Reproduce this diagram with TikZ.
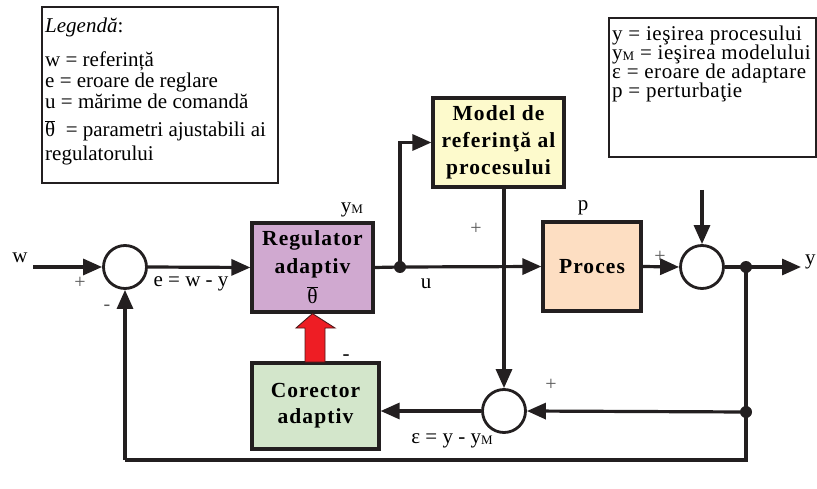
\documentclass[tikz,border=0pt]{standalone}
\usepackage{fontspec}
\setmainfont{Liberation Serif}
\newfontfamily\boxfont[LetterSpace=5]{Liberation Serif}
\newfontfamily\widefont[LetterSpace=2.5]{Liberation Serif}
\usetikzlibrary{arrows.meta,calc}
\definecolor{lc}{HTML}{231F20}
\definecolor{regfill}{HTML}{D0A9D0}
\definecolor{modfill}{HTML}{FDFACC}
\definecolor{procfill}{HTML}{FDDEC2}
\definecolor{corfill}{HTML}{D3E6CB}
\definecolor{redarr}{HTML}{EE1D24}
\newcommand{\txt}{\fontsize{21}{21}\selectfont}
\newcommand{\ysubM}{y{\fontsize{13}{13}\selectfont\raisebox{-1pt}{M}}}
\newcommand{\thbar}{\ensuremath{\overline{\mbox{θ}}}}
\tikzset{
  blk/.style={draw=lc, line width=3.2pt, inner sep=0pt, align=center,
    font=\boxfont\bfseries\fontsize{21.5}{28}\selectfont},
  sumc/.style={circle, draw=lc, line width=2.8pt, minimum size=43pt, inner sep=0pt, fill=white},
  conn/.style={draw=lc, line width=3.2pt, -{Triangle[length=19pt,width=16pt]}},
  wire/.style={draw=lc, line width=3.2pt},
  jdot/.style={circle, fill=lc, inner sep=0pt, minimum size=12pt},
  lbl/.style={font=\txt, inner sep=0pt},
  rlbl/.style={font=\widefont\txt, inner sep=0pt, anchor=base west},
  sgn/.style={font=\fontsize{20}{20}\selectfont, text=gray!70!black, inner sep=0pt},
  legbox/.style={draw=lc, line width=1.4pt},
}
\begin{document}
\begin{tikzpicture}[x=1pt,y=-1pt]
\useasboundingbox (0,0) rectangle (817,489);

% legend boxes
\draw[legbox] (42,7) rectangle (278,183);
\node[lbl, anchor=base west] (lg0) at (45,33) {\textit{Legendă}:};
\node[lbl, anchor=base west] (lg1) at (45,67) {w = referință};
\node[lbl, anchor=base west] (lg2) at (45,88) {e = eroare de reglare};
\node[lbl, anchor=base west] (lg3) at (45,109) {u = mărime de comandă};
\node[lbl, anchor=base west] (lg4) at (45,137) {\thbar\ \ = parametri ajustabili ai};
\node[lbl, anchor=base west] (lg5) at (45,161) {regulatorului};

\draw[legbox] (609,18) rectangle (816,157);
\node[rlbl] (rg1) at (612,41) {y = ieşirea procesului};
\node[rlbl] (rg2) at (612,60) {\ysubM{} = ieşirea modelului};
\node[rlbl] (rg3) at (612,79) {ε = eroare de adaptare};
\node[rlbl] (rg4) at (612,98) {p = perturbaţie};

% blocks
\node[blk, fill=regfill, minimum width=121pt, minimum height=89pt] (reg) at (312.5,267.5)
  {Regulator\\[0pt]adaptiv\\[2pt]{\mdseries\thbar}};
\node[blk, fill=modfill, minimum width=131pt, minimum height=89pt] (mod) at (498.5,142.5)
  {Model de\\[-1pt]referinţă al\\[-1pt]procesului};
\node[blk, fill=procfill, minimum width=98pt, minimum height=89pt] (proc) at (592,266.5) {Proces};
\node[blk, fill=corfill, minimum width=127pt, minimum height=86pt] (cor) at (315.5,406)
  {Corector\\[-2pt]adaptiv};

% summing junctions
\node[sumc] (s1) at (125,267) {};
\node[sumc] (s2) at (702,267) {};
\node[sumc] (s3) at (504,411) {};

% junction points and free ends
\node[jdot] (ju) at (400,267) {};
\node[jdot] (jy) at (746,267) {};
\node[jdot] (je) at (746,412) {};
\coordinate (win) at (33,267);
\coordinate (yout) at (801,267);
\coordinate (pin) at (702,190);
\coordinate (fbR) at (746,460);
\coordinate (fbL) at (125,460);

% signal flow
\draw[conn] (win) -- (s1.west);
\draw[conn] (s1.east) -- (reg.west);
\draw[wire] (reg.east) -- (ju.center);
\draw[conn] (ju.center) -- (proc.west);
\draw[conn] (ju.center) |- (mod.west);
\draw[conn] (mod.south -| s3.north) -- (s3.north);
\draw[conn] (proc.east) -- (s2.west);
\draw[conn] (pin) -- (s2.north);
\draw[wire] (s2.east) -- (jy.center);
\draw[conn] (jy.center) -- (yout);
\draw[wire] (jy.center) -- (je.center);
\draw[conn] (je.center) -- (s3.east);
\draw[conn] (s3.west) -- (s3.west -| cor.east);
\draw[wire, line join=miter] (je.center) -- (fbR) -- (fbL);
\draw[conn] (fbL) -- (s1.south);

% adaptation arrow (corrector -> regulator)
\draw[draw=lc!80!red, line width=0.9pt, fill=redarr]
  (305,362) -- (305,328) -- (296,328) -- (reg.south) -- (335,328) -- (325,328) -- (325,362) -- cycle;

% labels
\node[lbl] (lw) at (20,258) {w};
\node[lbl] (le) at (191,284) {e = w - y};
\node[lbl] (lu) at (426,284) {u};
\node[lbl] (lym) at (352,210) {\ysubM};
\node[lbl] (lp) at (583,208) {p};
\node[lbl, anchor=west] (ly) at (805,262) {y};
\node[lbl] (leps) at (452,441) {ε = y - \ysubM};
\node[lbl] (ldash) at (346,358) {-};
\node[sgn] (p1) at (80,283) {+};
\node[sgn] (m1) at (107,308) {-};
\node[sgn] (p2) at (476,229) {+};
\node[sgn] (p3) at (660,257) {+};
\node[sgn] (p4) at (551,385) {+};
\end{tikzpicture}
\end{document}
